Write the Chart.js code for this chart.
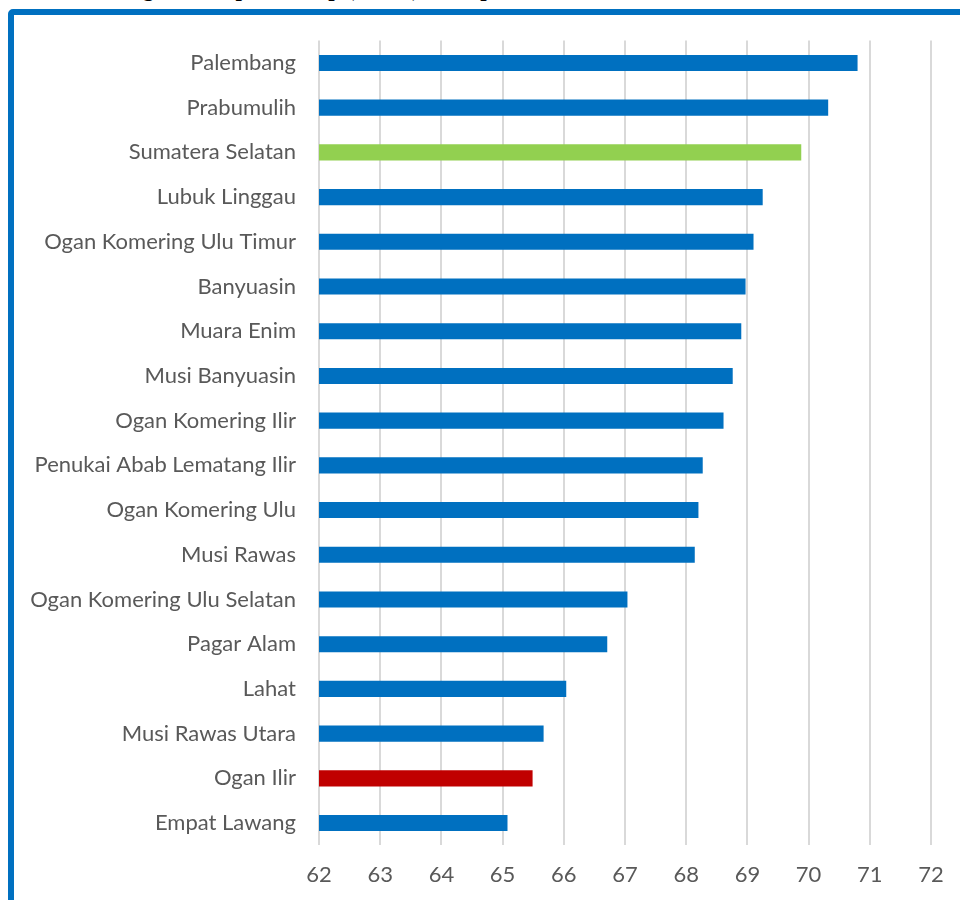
<!DOCTYPE html>
<html>
<head>
<meta charset="utf-8">
<script src="https://cdn.jsdelivr.net/npm/chart.js@4/dist/chart.umd.min.js"></script>
<style>
  html, body { margin: 0; padding: 0; background: #fff; width: 960px; height: 900px; overflow: hidden; }
  #title {
    position: absolute; left: 0; width: 1004px; top: -25px;
    text-align: center; font: bold 23px "Liberation Serif", serif; color: #000;
    white-space: nowrap; line-height: 28px;
  }
  #frame {
    position: absolute; left: 8px; top: 9px; width: 1000px; height: 1000px;
    border: 6px solid #0070C0; border-radius: 5px; background: #fff;
  }
  #chart { position: absolute; left: 0; top: 0; }
</style>
</head>
<body>
<div id="title">Angka Harapan Hidup (tahun) Kabupaten/Kota Sumatera Selatan Tahun 2018</div>
<div id="frame"></div>
<canvas id="chart" width="960" height="900"></canvas>
<script>
// Kabupaten/kota, ordered from highest to lowest
const regions = [
  "Palembang", "Prabumulih", "Sumatera Selatan", "Lubuk Linggau",
  "Ogan Komering Ulu Timur", "Banyuasin", "Muara Enim", "Musi Banyuasin",
  "Ogan Komering Ilir", "Penukai Abab Lematang Ilir", "Ogan Komering Ulu",
  "Musi Rawas", "Ogan Komering Ulu Selatan", "Pagar Alam", "Lahat",
  "Musi Rawas Utara", "Ogan Ilir", "Empat Lawang"
];
// Life expectancy (years)
const lifeExpectancy = [
  70.80, 70.32, 69.88, 69.25,
  69.10, 68.97, 68.90, 68.76,
  68.61, 68.27, 68.20,
  68.14, 67.04, 66.71, 66.04,
  65.67, 65.49, 65.08
];
// Value axis ticks
const axisTicks = [62, 63, 64, 65, 66, 67, 68, 69, 70, 71, 72];

const provinceName = "Sumatera Selatan";
const lowestHighlight = "Ogan Ilir";
const barColors = regions.map(r =>
  r === provinceName ? "#92D050" : (r === lowestHighlight ? "#C00000" : "#0070C0"));

const labelFont = { family: "Lato, 'Open Sans', sans-serif", size: 22 };

new Chart(document.getElementById("chart"), {
  type: "bar",
  data: {
    labels: regions,
    datasets: [{
      data: lifeExpectancy,
      backgroundColor: barColors,
      borderWidth: 0,
      barPercentage: 0.36,
      categoryPercentage: 1.0
    }]
  },
  options: {
    indexAxis: "y",
    responsive: false,
    animation: false,
    layout: { padding: { top: 40.6, right: 29, bottom: 0, left: 0 } },
    plugins: { legend: { display: false }, tooltip: { enabled: false } },
    scales: {
      x: {
        min: axisTicks[0],
        max: axisTicks[axisTicks.length - 1],
        afterBuildTicks: s => { s.ticks = axisTicks.map(v => ({ value: v })); },
        afterFit: s => { s.height = 54.6; },
        grid: { color: "#d9d9d9", lineWidth: 2, drawTicks: false },
        border: { display: false },
        ticks: { color: "#595959", font: labelFont, padding: 16 }
      },
      y: {
        afterFit: s => { s.width = 319; },
        grid: { display: false, drawTicks: false },
        border: { display: false },
        ticks: { color: "#595959", font: labelFont, padding: 23, autoSkip: false }
      }
    }
  }
});
</script>
</body>
</html>
